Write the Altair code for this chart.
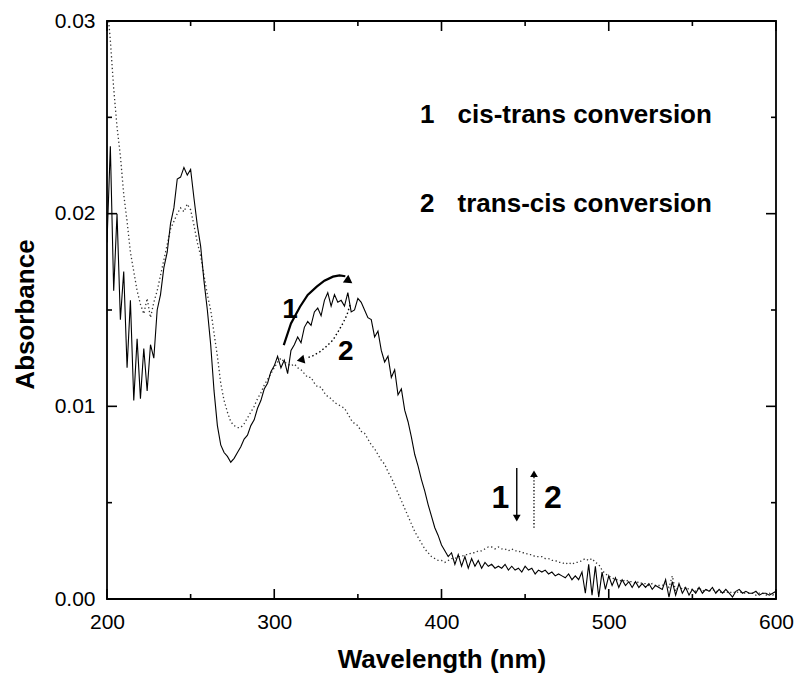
import altair as alt
import pandas as pd

# ---------------- data ----------------
wavelength = list(range(200, 602, 2))

abs_cis_trans = [  # curve 1 (solid)
    0.0185, 0.0235, 0.0160, 0.0200, 0.0145, 0.0170, 0.0120, 0.0155, 0.0103, 0.0135,
    0.0104, 0.0130, 0.0108, 0.0132, 0.0125, 0.0150, 0.0158, 0.0172, 0.0180, 0.0195,
    0.0203, 0.0218, 0.0219, 0.0224, 0.0220, 0.0223, 0.0208, 0.0194, 0.0183, 0.0165,
    0.0150, 0.0132, 0.0108, 0.0090, 0.0080, 0.0076, 0.0074, 0.0071, 0.0073, 0.0076,
    0.0079, 0.0083, 0.0085, 0.0090, 0.0093, 0.0099, 0.0103, 0.0109, 0.0112, 0.0118,
    0.0121, 0.0126, 0.0120, 0.0124, 0.0117, 0.0129, 0.0132, 0.0136, 0.0133, 0.0141,
    0.0144, 0.0142, 0.0149, 0.0151, 0.0147, 0.0155, 0.0159, 0.0152, 0.0158, 0.0154,
    0.0155, 0.0152, 0.0159, 0.0149, 0.0150, 0.0156, 0.0154, 0.0150, 0.0146, 0.0145,
    0.0136, 0.0139, 0.0129, 0.0123, 0.0126, 0.0115, 0.0119, 0.0106, 0.0109, 0.0098,
    0.0092, 0.0084, 0.0075, 0.0069, 0.0062, 0.0056, 0.0049, 0.0043, 0.0037, 0.0033,
    0.0028, 0.0025, 0.0022, 0.0024, 0.0018, 0.0023, 0.0017, 0.0022, 0.0016, 0.0021,
    0.0017, 0.0020, 0.0016, 0.0019, 0.0017, 0.0018, 0.0016, 0.0017, 0.0016, 0.0018,
    0.0015, 0.0017, 0.0015, 0.0016, 0.0014, 0.0017, 0.0015, 0.0016, 0.0013, 0.0015,
    0.0014, 0.0015, 0.0013, 0.0014, 0.0012, 0.0013, 0.0012, 0.0011, 0.0013, 0.0010,
    0.0012, 0.0010, 0.0014, 0.0003, 0.0018, 0.0002, 0.0017, 0.0001, 0.0014, 0.0005,
    0.0012, 0.0007, 0.0011, 0.0006, 0.0010, 0.0007, 0.0009, 0.0006, 0.0009, 0.0006,
    0.0008, 0.0006, 0.0008, 0.0005, 0.0007, 0.0006, 0.0005, 0.0010, 0.0001, 0.0009,
    0.0002, 0.0008, 0.0003, 0.0006, 0.0002, 0.0005, 0.0003, 0.0006, 0.0003, 0.0005,
    0.0004, 0.0006, 0.0003, 0.0005, 0.0003, 0.0005, 0.0003, 0.0001, 0.0004, 0.0005,
    0.0003, 0.0004, 0.0003, 0.0003, 0.0004, 0.0002, 0.0003, 0.0003, 0.0002, 0.0003,
    0.0004,
]

abs_trans_cis = [  # curve 2 (dotted)
    0.0310, 0.0290, 0.0265, 0.0245, 0.0230, 0.0210, 0.0196, 0.0180, 0.0170, 0.0160,
    0.0153, 0.0148, 0.0156, 0.0146, 0.0154, 0.0160, 0.0168, 0.0176, 0.0184, 0.0192,
    0.0196, 0.0200, 0.0203, 0.0201, 0.0205, 0.0202, 0.0194, 0.0185, 0.0178, 0.0168,
    0.0158, 0.0150, 0.0138, 0.0126, 0.0112, 0.0103, 0.0097, 0.0092, 0.0090, 0.0089,
    0.0089, 0.0091, 0.0094, 0.0097, 0.0100, 0.0104, 0.0107, 0.0111, 0.0114, 0.0117,
    0.0120, 0.0123, 0.0125, 0.0123, 0.0122, 0.0121, 0.0122, 0.0120, 0.0119, 0.0117,
    0.0115, 0.0115, 0.0112, 0.0110, 0.0110, 0.0107, 0.0105, 0.0104, 0.0102, 0.0101,
    0.0100, 0.0099, 0.0096, 0.0093, 0.0091, 0.0090, 0.0087, 0.0086, 0.0083, 0.0080,
    0.0078, 0.0075, 0.0072, 0.0070, 0.0066, 0.0063, 0.0059, 0.0055, 0.0051, 0.0047,
    0.0043, 0.0039, 0.0035, 0.0032, 0.0029, 0.0026, 0.0024, 0.0022, 0.0021, 0.0020,
    0.0020, 0.0019, 0.0020, 0.0021, 0.0021, 0.0022, 0.0022, 0.0023, 0.0023, 0.0024,
    0.0024, 0.0025, 0.0025, 0.0026, 0.0027, 0.0027, 0.0026, 0.0027, 0.0026, 0.0026,
    0.0025, 0.0026, 0.0025, 0.0025, 0.0024, 0.0024, 0.0023, 0.0023, 0.0022, 0.0022,
    0.0022, 0.0021, 0.0021, 0.0020, 0.0020, 0.0019, 0.0019, 0.0018, 0.0019, 0.0018,
    0.0019, 0.0019, 0.0020, 0.0021, 0.0020, 0.0021, 0.0019, 0.0018, 0.0015, 0.0013,
    0.0012, 0.0011, 0.0010, 0.0010, 0.0009, 0.0010, 0.0009, 0.0009, 0.0008, 0.0009,
    0.0008, 0.0008, 0.0007, 0.0008, 0.0007, 0.0007, 0.0007, 0.0008, 0.0006, 0.0012,
    0.0004, 0.0007, 0.0005, 0.0006, 0.0005, 0.0005, 0.0004, 0.0006, 0.0004, 0.0005,
    0.0004, 0.0005, 0.0004, 0.0004, 0.0003, 0.0004, 0.0003, 0.0004, 0.0003, 0.0004,
    0.0003, 0.0003, 0.0003, 0.0003, 0.0002, 0.0003, 0.0003, 0.0002, 0.0003, 0.0002,
    0.0003,
]

x_major = [200, 300, 400, 500, 600]
x_minor = [250, 350, 450, 550]
y_major = [0.0, 0.01, 0.02, 0.03]
y_minor = [0.005, 0.015, 0.025]

legend_nums = ["1", "2"]
legend_texts = ["cis-trans conversion", "trans-cis conversion"]
legend_num_x = [387.1, 387.1]
legend_text_x = [409.6, 409.6]
legend_y = [0.0247, 0.0201]

arc1_wl = [305.7, 310.0, 315.4, 320.0, 325.4, 330.0, 335.1, 339.0, 342.5]
arc1_abs = [0.01318, 0.01430, 0.01517, 0.01578, 0.01621, 0.01652, 0.01673, 0.01680, 0.01675]
arc1_head = (344.0, 0.01655)

arc2_wl = [345.3, 343.5, 341.1, 338.0, 335.1, 331.0, 327.4, 323.0, 319.0]
arc2_abs = [0.01526, 0.01475, 0.01432, 0.01385, 0.01344, 0.01310, 0.01284, 0.01262, 0.01250]
arc2_head = (316.5, 0.01242)

arc_label_text = ["1", "2"]
arc_label_wl = [309.5, 342.8]
arc_label_abs = [0.01458, 0.01240]

vert_arrow_wl = [445.0, 455.3]
vert_arrow_top = 0.0068
vert_arrow_bottom = 0.0039
vert_label_text = ["1", "2"]
vert_label_wl = [435.2, 466.6]
vert_label_abs = [0.00472, 0.00472]

# ---------------- layout ----------------
W, H = 669, 578
FONT = "Liberation Sans"
MAJ, MIN = 10, 5

xs = alt.Scale(domain=[200, 600], nice=False, zero=False, padding=0)
ys = alt.Scale(domain=[0, 0.03], nice=False, zero=True, padding=0)

x_axis = alt.Axis(
    values=x_major, title="Wavelength (nm)", domain=False, ticks=False, grid=False,
    labelFlush=False, labelOverlap=False,
    labelFont=FONT, labelFontSize=21, labelColor="black", labelPadding=12,
    titleFont=FONT, titleFontSize=26, titleFontWeight="bold", titleColor="black",
    titleBaseline="alphabetic", titleY=68,
)
y_axis = alt.Axis(
    values=y_major, format=".2f", title="Absorbance", domain=False, ticks=False, grid=False,
    labelFlush=False, labelOverlap=False,
    labelFont=FONT, labelFontSize=21, labelColor="black", labelPadding=12,
    titleFont=FONT, titleFontSize=26, titleFontWeight="bold", titleColor="black",
    titleAngle=-90, titleBaseline="alphabetic", titleX=-74, titleY=H / 2 + 4, titleAlign="center",
)


def X(field):
    return alt.X(field, type="quantitative", scale=xs, axis=x_axis)


def Y(field):
    return alt.Y(field, type="quantitative", scale=ys, axis=y_axis)


spec_df = pd.DataFrame({
    "wl": wavelength + wavelength,
    "absorb": abs_cis_trans + abs_trans_cis,
    "series": ["1"] * len(wavelength) + ["2"] * len(wavelength),
})

solid = alt.Chart(spec_df).transform_filter(alt.datum.series == "1").mark_line(
    color="black", strokeWidth=1.1, clip=True
).encode(x=X("wl"), y=Y("absorb"))

dotted = alt.Chart(spec_df).transform_filter(alt.datum.series == "2").mark_line(
    color="#333333", strokeWidth=1.3, strokeDash=[1.3, 2.6], clip=True
).encode(x=X("wl"), y=Y("absorb"))


def tick_layer(values, orient, length):
    df = pd.DataFrame({"v": values})
    m = alt.Chart(df).mark_rule(color="black", strokeWidth=1.6)
    if orient == "bottom":
        return m.encode(x=X("v"), y=alt.value(H), y2=alt.value(H - length))
    if orient == "top":
        return m.encode(x=X("v"), y=alt.value(0), y2=alt.value(length))
    if orient == "left":
        return m.encode(y=Y("v"), x=alt.value(0), x2=alt.value(length))
    return m.encode(y=Y("v"), x=alt.value(W), x2=alt.value(W - length))


ticks = []
for o in ["bottom", "top"]:
    ticks.append(tick_layer(x_major, o, MAJ))
    ticks.append(tick_layer(x_minor, o, MIN))
for o in ["left", "right"]:
    ticks.append(tick_layer(y_major, o, MAJ))
    ticks.append(tick_layer(y_minor, o, MIN))

leg_df = pd.DataFrame({"num": legend_nums, "txt": legend_texts, "nx": legend_num_x,
                       "tx": legend_text_x, "y": legend_y})
leg_num = alt.Chart(leg_df).mark_text(
    font=FONT, fontSize=26, fontWeight="bold", align="left", baseline="alphabetic", color="black"
).encode(x=X("nx"), y=Y("y"), text="num:N")
leg_txt = alt.Chart(leg_df).mark_text(
    font=FONT, fontSize=26, fontWeight="bold", align="left", baseline="alphabetic", color="black"
).encode(x=X("tx"), y=Y("y"), text="txt:N")

arc1_df = pd.DataFrame({"wl": arc1_wl, "a": arc1_abs, "o": list(range(len(arc1_wl)))})
arc1 = alt.Chart(arc1_df).mark_line(color="black", strokeWidth=2.2).encode(
    x=X("wl"), y=Y("a"), order="o:Q")
head1 = alt.Chart(pd.DataFrame({"wl": [arc1_head[0]], "a": [arc1_head[1]]})).mark_point(
    shape="triangle", filled=True, color="black", size=90, angle=125, opacity=1
).encode(x=X("wl"), y=Y("a"))

arc2_df = pd.DataFrame({"wl": arc2_wl, "a": arc2_abs, "o": list(range(len(arc2_wl)))})
arc2 = alt.Chart(arc2_df).mark_line(color="black", strokeWidth=1.4, strokeDash=[1.5, 2.5]).encode(
    x=X("wl"), y=Y("a"), order="o:Q")
head2 = alt.Chart(pd.DataFrame({"wl": [arc2_head[0]], "a": [arc2_head[1]]})).mark_point(
    shape="triangle", filled=True, color="black", size=80, angle=258, opacity=1
).encode(x=X("wl"), y=Y("a"))

arc_lab = alt.Chart(pd.DataFrame({"t": arc_label_text, "wl": arc_label_wl, "a": arc_label_abs})).mark_text(
    font=FONT, fontSize=28, fontWeight="bold", align="center", baseline="alphabetic", color="black"
).encode(x=X("wl"), y=Y("a"), text="t:N")

v1 = alt.Chart(pd.DataFrame({"wl": [vert_arrow_wl[0]], "a": [vert_arrow_top], "a2": [vert_arrow_bottom + 0.0003]})).mark_rule(
    color="black", strokeWidth=1.4).encode(x=X("wl"), y=Y("a"), y2="a2:Q")
v1h = alt.Chart(pd.DataFrame({"wl": [vert_arrow_wl[0]], "a": [vert_arrow_bottom + 0.0003]})).mark_point(
    shape="triangle-down", filled=True, color="black", size=60, opacity=1).encode(x=X("wl"), y=Y("a"))
v2 = alt.Chart(pd.DataFrame({"wl": [vert_arrow_wl[1]], "a": [vert_arrow_bottom - 0.0002], "a2": [vert_arrow_top - 0.0003]})).mark_rule(
    color="black", strokeWidth=1.3, strokeDash=[1.3, 2]).encode(x=X("wl"), y=Y("a"), y2="a2:Q")
v2h = alt.Chart(pd.DataFrame({"wl": [vert_arrow_wl[1]], "a": [vert_arrow_top - 0.0003]})).mark_point(
    shape="triangle-up", filled=True, color="black", size=60, opacity=1).encode(x=X("wl"), y=Y("a"))

vert_lab = alt.Chart(pd.DataFrame({"t": vert_label_text, "wl": vert_label_wl, "a": vert_label_abs})).mark_text(
    font=FONT, fontSize=32, fontWeight="bold", align="center", baseline="alphabetic", color="black"
).encode(x=X("wl"), y=Y("a"), text="t:N")

chart = alt.layer(
    dotted, solid, *ticks, leg_num, leg_txt, arc1, head1, arc2, head2, arc_lab, v1, v1h, v2, v2h, vert_lab
).properties(
    width=W, height=H,
    autosize=alt.AutoSizeParams(type="none"),
    padding={"left": 107, "top": 21, "right": 20, "bottom": 74},
    background="white",
).configure_view(stroke="black", strokeWidth=1.8)

chart.save("out.html", embed_options={"renderer": "svg", "actions": False})
